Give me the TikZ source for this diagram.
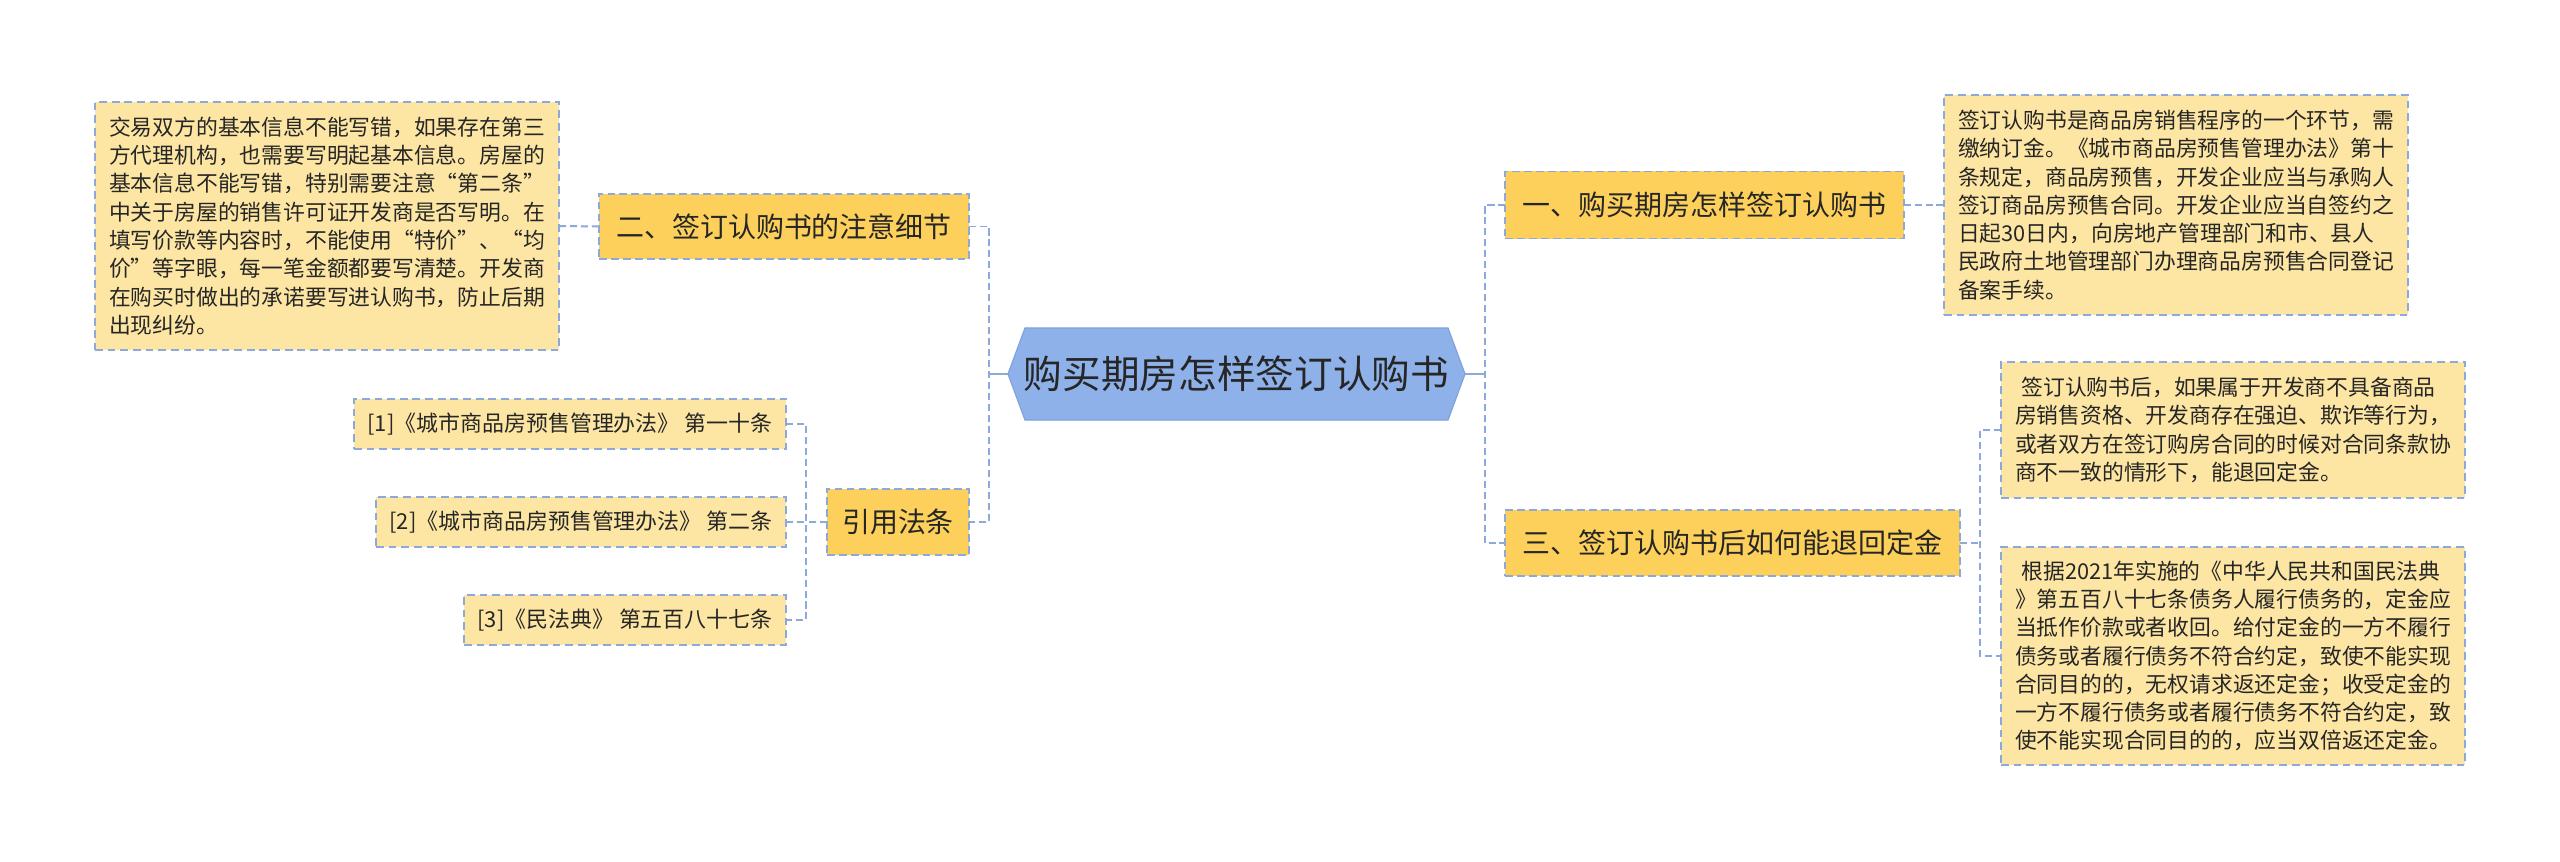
\documentclass[tikz,border=0pt]{standalone}
\usepackage{fontspec}
\setmainfont{Noto Sans CJK SC}
\usetikzlibrary{backgrounds}
\definecolor{rootblue}{HTML}{8EB1E9}
\definecolor{rootedge}{HTML}{7FA2DE}
\definecolor{mainyel}{HTML}{FCD05A}
\definecolor{detyel}{HTML}{FDE6A4}
\definecolor{lineblue}{HTML}{8DA9DC}
\definecolor{txt}{HTML}{262626}
\def\pxu{0.7113pt}
\begin{document}
\begin{tikzpicture}[x=0.025cm,y=-0.025cm,
 every node/.style={text=txt, inner sep=0pt, outer sep=0pt},
 mainbox/.style={fill=mainyel, draw=lineblue, line width=1.4pt, dash pattern=on 5.5pt off 3pt, font=\fontsize{19.9}{24}\selectfont},
 detbox/.style={fill=detyel, draw=lineblue, line width=1.1pt, dash pattern=on 5.5pt off 3.5pt, align=left, font=\fontsize{15.5}{20.1}\selectfont},
 citebox/.style={fill=detyel, draw=lineblue, line width=1.1pt, dash pattern=on 5.5pt off 3.5pt, font=\fontsize{15.6}{19}\selectfont},
 link/.style={draw=lineblue, line width=1.4pt, dash pattern=on 5pt off 2.8pt},
 rootlink/.style={draw=lineblue, line width=1.4pt},
]
\useasboundingbox (0,0) rectangle (2560,862);

% root
\node[minimum width=457*\pxu, minimum height=92*\pxu, font=\fontsize{27.5}{32}\selectfont] (root) at (1236.5,374) {购买期房怎样签订认购书};
\begin{scope}[on background layer]
\fill[white] (0,0) rectangle (2560,862);
\fill[rootblue, draw=rootedge, line width=0.8pt] (root.west) -- ([xshift=17*\pxu]root.north west) -- ([xshift=-17*\pxu]root.north east) -- (root.east) -- ([xshift=-17*\pxu]root.south east) -- ([xshift=17*\pxu]root.south west) -- cycle;
\end{scope}

% left branch nodes
\node[mainbox, minimum width=370*\pxu, minimum height=65*\pxu] (n2) at (784,226.5) {二、签订认购书的注意细节};
\node[mainbox, minimum width=142*\pxu, minimum height=66*\pxu] (nyy) at (898,522) {引用法条};
\node[detbox, minimum width=464*\pxu, minimum height=248*\pxu] (d2) at (327,226) {交易双方的基本信息不能写错，如果存在第三\\方代理机构，也需要写明起基本信息。房屋的\\基本信息不能写错，特别需要注意“第二条”\\中关于房屋的销售许可证开发商是否写明。在\\填写价款等内容时，不能使用“特价”、“均\\价”等字眼，每一笔金额都要写清楚。开发商\\在购买时做出的承诺要写进认购书，防止后期\\出现纠纷。};
\node[citebox, minimum width=432*\pxu, minimum height=50*\pxu] (c1) at (570,424) {[1]《城市商品房预售管理办法》 第一十条};
\node[citebox, minimum width=410*\pxu, minimum height=50*\pxu] (c2) at (581,522) {[2]《城市商品房预售管理办法》 第二条};
\node[citebox, minimum width=322*\pxu, minimum height=50*\pxu] (c3) at (625,620) {[3]《民法典》 第五百八十七条};

% right branch nodes
\node[mainbox, minimum width=398*\pxu, minimum height=67*\pxu] (n1) at (1704.5,205) {一、购买期房怎样签订认购书};
\node[mainbox, minimum width=455*\pxu, minimum height=66*\pxu] (n3) at (1732.5,543) {三、签订认购书后如何能退回定金};
\node[detbox, minimum width=464*\pxu, minimum height=220*\pxu] (r1) at (2176,205) {签订认购书是商品房销售程序的一个环节，需\\缴纳订金。《城市商品房预售管理办法》第十\\条规定，商品房预售，开发企业应当与承购人\\签订商品房预售合同。开发企业应当自签约之\\日起30日内，向房地产管理部门和市、县人\\民政府土地管理部门办理商品房预售合同登记\\备案手续。};
\node[detbox, minimum width=464*\pxu, minimum height=136*\pxu] (r3a) at (2233,430) {\hspace*{0.3em}签订认购书后，如果属于开发商不具备商品\\房销售资格、开发商存在强迫、欺诈等行为，\\或者双方在签订购房合同的时候对合同条款协\\商不一致的情形下，能退回定金。};
\node[detbox, minimum width=464*\pxu, minimum height=218*\pxu] (r3b) at (2233,656) {\hspace*{0.3em}根据2021年实施的《中华人民共和国民法典\\》第五百八十七条债务人履行债务的，定金应\\当抵作价款或者收回。给付定金的一方不履行\\债务或者履行债务不符合约定，致使不能实现\\合同目的的，无权请求返还定金；收受定金的\\一方不履行债务或者履行债务不符合约定，致\\使不能实现合同目的的，应当双倍返还定金。};

% trunk coordinates
\coordinate (lt1) at (989,226.5);
\coordinate (ltm) at (989,374);
\coordinate (lt2) at (989,522);
\coordinate (ct1) at (806,424);
\coordinate (ctm) at (806,522);
\coordinate (ct3) at (806,620);
\coordinate (rt1) at (1485,205);
\coordinate (rtm) at (1485,374);
\coordinate (rt3) at (1485,543);
\coordinate (st0) at (1980,543);
\coordinate (st1) at (1980,430);
\coordinate (st2) at (1980,656);

% connectors
\draw[rootlink] (root.west) -- (ltm);
\draw[rootlink] (root.east) -- (rtm);
\draw[link] (n2.east) -- (lt1) -- (lt2) -- (nyy.east);
\draw[link] (n2.west) -- (d2.east);
\draw[link] (nyy.west) -- (ctm);
\draw[link] (c1.east) -- (ct1) -- (ct3) -- (c3.east);
\draw[link] (c2.east) -- (ctm);
\draw[link] (n1.west) -- (rt1) -- (rt3) -- (n3.west);
\draw[link] (n1.east) -- (r1.west);
\draw[link] (n3.east) -- (st0);
\draw[link] (r3a.west) -- (st1) -- (st2) -- (r3b.west);
\end{tikzpicture}
\end{document}
